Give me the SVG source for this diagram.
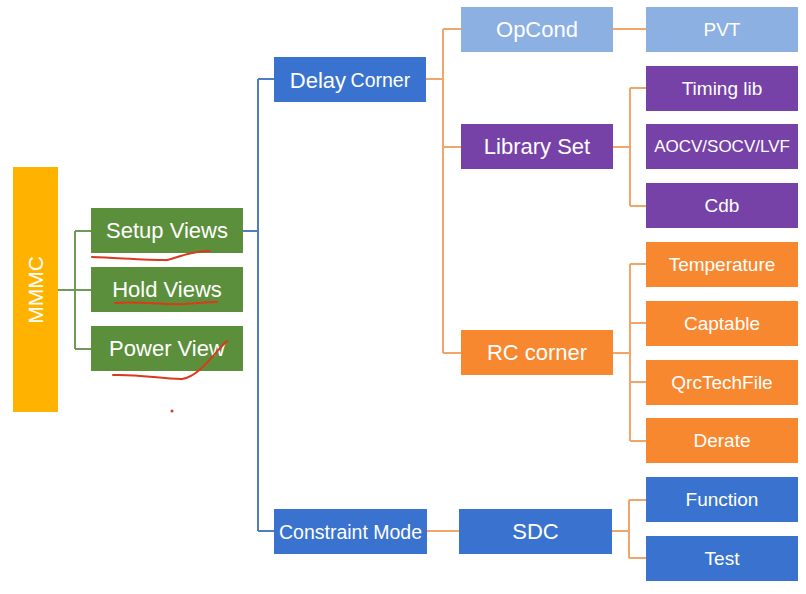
<svg xmlns="http://www.w3.org/2000/svg" width="806" height="594" viewBox="0 0 806 594">
<style>
text{font-family:"Liberation Sans",Arial,sans-serif;fill:#fff;text-anchor:middle;dominant-baseline:central}
.b{fill:#3a73cf}.lb{fill:#8cb0e2}.p{fill:#7642a7}.o{fill:#f7882f}.g{fill:#5c8f3b}.y{fill:#ffb300}
.cg{stroke:#6f9b58;stroke-width:2;fill:none}
.cb{stroke:#4f7cc4;stroke-width:2;fill:none}
.co{stroke:#f3a468;stroke-width:2;fill:none}
.ink{stroke:#d9391c;stroke-width:2;fill:none;stroke-linecap:round}
.f22{font-size:22px}.f19{font-size:19px}.f17{font-size:17px}
</style>
<rect width="806" height="594" fill="#fff"/>
<g id="connectors">
<path class="cg" d="M58 290H75M75 231V349M75 231H91M75 290H91M75 349H91"/>
<path class="cb" d="M243 231H258M258 79V531M258 79H274M258 531H274"/>
<path class="co" d="M426 79H443M443 29V353M443 29H461M443 147H461M443 353H461M613 29H646"/>
<path class="co" d="M613 147H630M630 88V206M630 88H646M630 206H646"/>
<path class="co" d="M613 353H630M630 264V441M630 264H646M630 323H646M630 382H646M630 441H646"/>
<path class="co" d="M427 531H459M612 531H629M629 500V558M629 500H646M629 558H646"/>
</g>
<g id="mmmc"><rect class="y" x="13" y="167" width="45" height="245"/><text class="f22" transform="translate(35.5 290) rotate(-90)" style="font-size:21px">MMMC</text></g>
<g id="setup"><rect class="g" x="91" y="208" width="152" height="45"/><text class="f22" x="167" y="230.5">Setup Views</text></g>
<g id="hold"><rect class="g" x="91" y="267" width="152" height="45"/><text class="f22" x="167" y="289.5">Hold Views</text></g>
<g id="power"><rect class="g" x="91" y="326" width="152" height="45"/><text class="f22" x="167" y="348.5">Power View</text></g>
<g id="delay"><rect class="b" x="274" y="57" width="152" height="45"/><text x="350" y="79.5"><tspan class="f22">Delay</tspan> <tspan style="font-size:19.5px">Corner</tspan></text></g>
<g id="constraint"><rect class="b" x="274" y="509" width="153" height="45"/><text x="350.5" y="531.5" style="font-size:19.5px">Constraint Mode</text></g>
<g id="sdc"><rect class="b" x="459" y="509" width="153" height="45"/><text class="f22" x="535.5" y="531.5">SDC</text></g>
<g id="opcond"><rect class="lb" x="461" y="7" width="152" height="45"/><text class="f22" x="537" y="29.5">OpCond</text></g>
<g id="pvt"><rect class="lb" x="646" y="7" width="152" height="45"/><text class="f19" x="722" y="29.5">PVT</text></g>
<g id="libset"><rect class="p" x="461" y="124" width="152" height="45"/><text class="f22" x="537" y="146.5">Library Set</text></g>
<g id="timing"><rect class="p" x="646" y="66" width="152" height="45"/><text class="f19" x="722" y="88.5">Timing lib</text></g>
<g id="aocv"><rect class="p" x="646" y="124" width="152" height="45"/><text class="f17" x="722" y="146.5">AOCV/SOCV/LVF</text></g>
<g id="cdb"><rect class="p" x="646" y="183" width="152" height="45"/><text class="f19" x="722" y="205.5">Cdb</text></g>
<g id="rc"><rect class="o" x="461" y="330" width="152" height="45"/><text class="f22" x="537" y="352.5">RC corner</text></g>
<g id="temp"><rect class="o" x="646" y="242" width="152" height="45"/><text class="f19" x="722" y="264.5">Temperature</text></g>
<g id="captable"><rect class="o" x="646" y="301" width="152" height="45"/><text class="f19" x="722" y="323.5">Captable</text></g>
<g id="qrc"><rect class="o" x="646" y="360" width="152" height="45"/><text class="f19" x="722" y="382.5">QrcTechFile</text></g>
<g id="derate"><rect class="o" x="646" y="418" width="152" height="45"/><text class="f19" x="722" y="440.5">Derate</text></g>
<g id="function"><rect class="b" x="646" y="477" width="152" height="45"/><text class="f19" x="722" y="499.5">Function</text></g>
<g id="test"><rect class="b" x="646" y="536" width="152" height="45"/><text class="f19" x="722" y="558.5">Test</text></g>
<g id="annotations">
<path class="ink" d="M92 257C120 258 145 260 167 260C180 257 190 251 210 251"/>
<path class="ink" d="M115 303C140 301 160 305 185 304C200 303 210 302 217 302"/>
<path class="ink" d="M113 375C140 374 160 379 182 379C200 376 212 355 227 341"/>
<circle cx="172" cy="411" r="1.5" fill="#d9391c"/>
</g>
</svg>
